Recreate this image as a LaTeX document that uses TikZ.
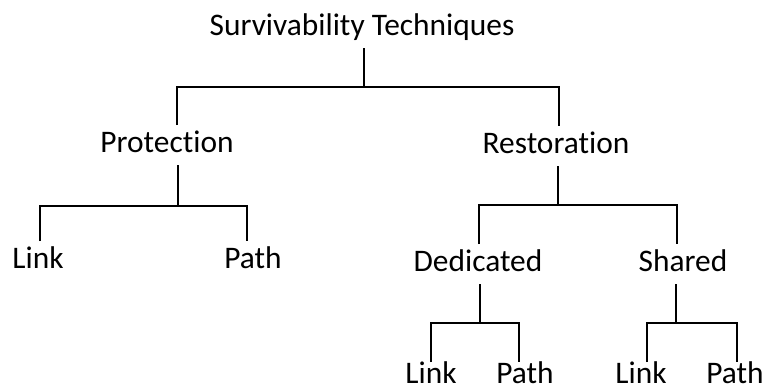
\documentclass[tikz,border=0pt]{standalone}
\usepackage{fontspec}
\setmainfont{Carlito}[RawFeature=-liga]
\begin{document}
\begin{tikzpicture}[x=1pt,y=-1pt,
  label/.style={anchor=base,inner sep=0pt,outer ysep=6pt,
    text height=21pt,text depth=7pt,
    font=\fontsize{31.4}{37}\selectfont},
  leaf/.style={label,text height=15pt,text depth=0pt},
  branch/.style={line width=1.5pt,line cap=butt,line join=miter}]
\useasboundingbox (0,0) rectangle (767,391);

% tree labels (placed at their baselines)
\node[label] (root) at (362,35)  {Survivability Techniques};
\node[label] (prot) at (167,152) {Protection};
\node[label] (rest) at (556,153) {Restoration};
\node[label] (plink) at (38,268)  {Link};
\node[label] (ppath) at (253,268) {Path};
\node[label] (ded)  at (478,271) {Dedicated};
\node[label] (shr)  at (683,271) {Shared};
\node[leaf] (dlink) at (431,383) {Link};
\node[leaf] (dpath) at (525,383) {Path};
\node[leaf] (slink) at (641,383) {Link};
\node[leaf] (spath) at (735,383) {Path};

% bracket corners and stems
\coordinate (rj) at (364,87);
\coordinate (rl) at (177,87);
\coordinate (rr) at (559,87);
\coordinate (pj) at (178,206);
\coordinate (pl) at (40,206);
\coordinate (pr) at (247,206);
\coordinate (qj) at (558,205);
\coordinate (ql) at (479,205);
\coordinate (qr) at (677,205);
\coordinate (dj) at (480,323);
\coordinate (dl) at (431,323);
\coordinate (dr) at (519,323);
\coordinate (sj) at (676,323);
\coordinate (sl) at (647,323);
\coordinate (sr) at (737,323);

% root level
\draw[branch] (root.south -| rj) -- (rj);
\draw[branch] (prot.north -| rl) -- (rl) -- (rr) -- (rest.north -| rr);

% protection branch
\draw[branch] (prot.south -| pj) -- (pj);
\draw[branch] (plink.north -| pl) -- (pl) -- (pr) -- (ppath.north -| pr);

% restoration branch
\draw[branch] (rest.south -| qj) -- (qj);
\draw[branch] (ded.north -| ql) -- (ql) -- (qr) -- (shr.north -| qr);

% dedicated
\draw[branch] (ded.south -| dj) -- (dj);
\draw[branch] (dlink.north -| dl) -- (dl) -- (dr) -- (dpath.north -| dr);

% shared
\draw[branch] (shr.south -| sj) -- (sj);
\draw[branch] (slink.north -| sl) -- (sl) -- (sr) -- (spath.north -| sr);
\end{tikzpicture}
\end{document}
